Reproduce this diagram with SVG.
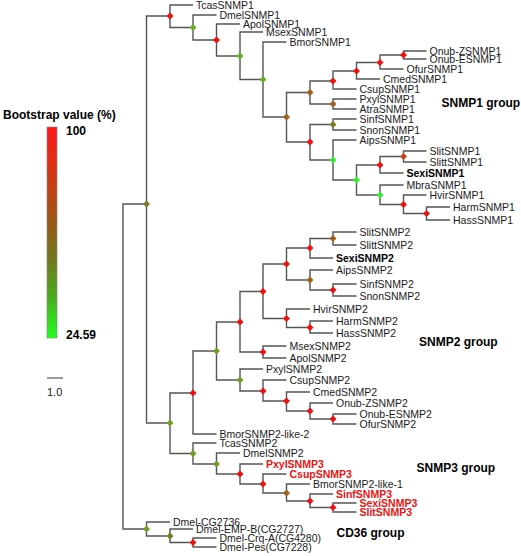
<svg xmlns="http://www.w3.org/2000/svg" xmlns:xlink="http://www.w3.org/1999/xlink" width="521" height="556" viewBox="0 0 521 556">
<style>
text{font-family:"Liberation Sans",Arial,sans-serif;font-size:10.5px;fill:#1a1a1a}
.b{font-weight:bold;fill:#000}
.rb{font-weight:bold;fill:#ee1111}
.g{font-weight:bold;font-size:12px;fill:#000}
.n{font-size:11px}
#conn path{fill:none;stroke:#555;stroke-width:1.4}
.r{fill:#ee1111}.rb2{fill:#c8401a}.br{fill:#a0601e}.ol{fill:#7a7a22}.og{fill:#749a26}.yg{fill:#66ac28}.gr{fill:#33ee33}
</style>
<defs>
<path id="d" d="M0 -3.5L3.5 0L0 3.5L-3.5 0Z"/>
<linearGradient id="bs" x1="0" y1="0" x2="0" y2="1">
<stop offset="0" stop-color="#ff1a1a"/>
<stop offset="0.25" stop-color="#cc3a12"/>
<stop offset="0.45" stop-color="#995a16"/>
<stop offset="0.62" stop-color="#75761c"/>
<stop offset="0.8" stop-color="#4aa81e"/>
<stop offset="1" stop-color="#22ff22"/>
</linearGradient>
</defs>
<rect width="521" height="556" fill="#fff"/>
<g id="legend">
<text class="g" x="3" y="119">Bootstrap value (%)</text>
<rect x="47" y="127" width="10" height="211" fill="url(#bs)" stroke="#888" stroke-width="0.6"/>
<text class="g" x="66" y="135">100</text>
<text class="g" x="66" y="339">24.59</text>
<line x1="47" y1="378" x2="63" y2="378" stroke="#333" stroke-width="1"/>
<text class="n" x="47" y="396">1.0</text>
</g>
<g id="conn">
<path d="M146.5 204H123V529H146.5"/>
<path d="M170 16H146.5V423H170"/>
<path d="M193 5H170V27.5H193"/>
<path d="M216.5 15H193V40H216.5"/>
<path d="M240 24H216.5V56H240"/>
<path d="M263 32H240V79.5H263"/>
<path d="M286.5 42H263V117H286.5"/>
<path d="M310 92.5H286.5V142H310"/>
<path d="M333 81H310V104H333"/>
<path d="M356.5 71H333V89H356.5"/>
<path d="M380 62.5H356.5V79H380"/>
<path d="M403.5 55H380V69H403.5"/>
<path d="M426.5 51H403.5V59H426.5"/>
<path d="M356.5 99H333V109H356.5"/>
<path d="M333 124.5H310V160H333"/>
<path d="M356.5 119H333V130H356.5"/>
<path d="M356.5 140H333V180H356.5"/>
<path d="M380 165H356.5V195H380"/>
<path d="M403.5 156.5H380V173H403.5"/>
<path d="M426.5 151H403.5V162H426.5"/>
<path d="M403.5 185H380V204.5H403.5"/>
<path d="M426.5 195H403.5V213.5H426.5"/>
<path d="M450 207H426.5V220H450"/>
<path d="M193 393H170V453.5H193"/>
<path d="M216.5 351H193V434H216.5"/>
<path d="M240 322H216.5V380H240"/>
<path d="M263 291.5H240V352H263"/>
<path d="M286.5 264H263V318.5H286.5"/>
<path d="M310 248H286.5V280H310"/>
<path d="M333 238.5H310V258H333"/>
<path d="M356.5 232H333V245H356.5"/>
<path d="M333 270H310V290H333"/>
<path d="M356.5 284H333V296H356.5"/>
<path d="M310 309H286.5V327.5H310"/>
<path d="M333 321H310V333H333"/>
<path d="M286.5 346H263V358H286.5"/>
<path d="M263 369H240V391H263"/>
<path d="M286.5 380H263V401H286.5"/>
<path d="M310 392H286.5V411H310"/>
<path d="M333 403H310V419H333"/>
<path d="M356.5 414H333V424H356.5"/>
<path d="M216.5 443H193V464H216.5"/>
<path d="M240 453H216.5V474H240"/>
<path d="M263 464H240V484H263"/>
<path d="M286.5 474H263V493H286.5"/>
<path d="M310 484H286.5V501H310"/>
<path d="M333 494H310V507.5H333"/>
<path d="M356.5 503H333V512H356.5"/>
<path d="M170 522H146.5V536H170"/>
<path d="M193 529H170V542.5H193"/>
<path d="M216.5 538H193V547H216.5"/>
</g>
<g id="nodes">
<g id="n-top"><use href="#d" x="146.5" y="204" class="ol"/></g>
<g id="n1"><use href="#d" x="170" y="16" class="r"/></g>
<g id="n2"><use href="#d" x="193" y="27.5" class="yg"/></g>
<g id="n3"><use href="#d" x="216.5" y="40" class="r"/></g>
<g id="n4"><use href="#d" x="240" y="56" class="yg"/></g>
<g id="n5"><use href="#d" x="263" y="79.5" class="yg"/></g>
<g id="n6"><use href="#d" x="286.5" y="117" class="br"/></g>
<g id="n7"><use href="#d" x="310" y="92.5" class="br"/></g>
<g id="n8"><use href="#d" x="333" y="81" class="r"/></g>
<g id="n9"><use href="#d" x="356.5" y="71" class="r"/></g>
<g id="n10"><use href="#d" x="380" y="62.5" class="r"/></g>
<g id="n11"><use href="#d" x="403.5" y="55" class="r"/></g>
<g id="n12"><use href="#d" x="333" y="104" class="br"/></g>
<g id="n13"><use href="#d" x="310" y="142" class="r"/></g>
<g id="n14"><use href="#d" x="333" y="124.5" class="ol"/></g>
<g id="n15"><use href="#d" x="333" y="160" class="gr"/></g>
<g id="n16"><use href="#d" x="356.5" y="180" class="gr"/></g>
<g id="n17"><use href="#d" x="380" y="165" class="r"/></g>
<g id="n18"><use href="#d" x="403.5" y="156.5" class="rb2"/></g>
<g id="n19"><use href="#d" x="380" y="195" class="gr"/></g>
<g id="n20"><use href="#d" x="403.5" y="204.5" class="r"/></g>
<g id="n21"><use href="#d" x="426.5" y="213.5" class="r"/></g>
<g id="nA"><use href="#d" x="170" y="423" class="og"/></g>
<g id="nB"><use href="#d" x="193" y="393" class="r"/></g>
<g id="nC"><use href="#d" x="216.5" y="351" class="og"/></g>
<g id="nD"><use href="#d" x="240" y="322" class="r"/></g>
<g id="nE"><use href="#d" x="263" y="291.5" class="r"/></g>
<g id="nF"><use href="#d" x="286.5" y="264" class="r"/></g>
<g id="nG"><use href="#d" x="310" y="248" class="r"/></g>
<g id="nG1"><use href="#d" x="333" y="238.5" class="br"/></g>
<g id="nG2"><use href="#d" x="310" y="280" class="br"/></g>
<g id="nG3"><use href="#d" x="333" y="290" class="r"/></g>
<g id="nH"><use href="#d" x="286.5" y="318.5" class="r"/></g>
<g id="nH1"><use href="#d" x="310" y="327.5" class="r"/></g>
<g id="nJ"><use href="#d" x="263" y="352" class="r"/></g>
<g id="nK"><use href="#d" x="240" y="380" class="og"/></g>
<g id="nL"><use href="#d" x="263" y="391" class="r"/></g>
<g id="nM"><use href="#d" x="286.5" y="401" class="r"/></g>
<g id="nN"><use href="#d" x="310" y="411" class="r"/></g>
<g id="nO"><use href="#d" x="333" y="419" class="r"/></g>
<g id="nS3"><use href="#d" x="193" y="453.5" class="og"/></g>
<g id="nS4"><use href="#d" x="216.5" y="464" class="og"/></g>
<g id="nS5"><use href="#d" x="240" y="474" class="r"/></g>
<g id="nS6"><use href="#d" x="263" y="484" class="r"/></g>
<g id="nS7"><use href="#d" x="286.5" y="493" class="br"/></g>
<g id="nS8"><use href="#d" x="310" y="501" class="r"/></g>
<g id="nS9"><use href="#d" x="333" y="507.5" class="r"/></g>
<g id="nCD"><use href="#d" x="146.5" y="529" class="og"/></g>
<g id="nCD2"><use href="#d" x="170" y="536" class="ol"/></g>
<g id="nCD3"><use href="#d" x="193" y="542.5" class="r"/></g>
</g>
<g id="leaves">
<g id="TcasSNMP1"><text x="196" y="9">TcasSNMP1</text></g>
<g id="DmelSNMP1"><text x="219.5" y="19">DmelSNMP1</text></g>
<g id="ApolSNMP1"><text x="243" y="28">ApolSNMP1</text></g>
<g id="MsexSNMP1"><text x="266" y="36">MsexSNMP1</text></g>
<g id="BmorSNMP1"><text x="289.5" y="46">BmorSNMP1</text></g>
<g id="Onub-ZSNMP1"><text x="429.5" y="55">Onub-ZSNMP1</text></g>
<g id="Onub-ESNMP1"><text x="429.5" y="63">Onub-ESNMP1</text></g>
<g id="OfurSNMP1"><text x="406.5" y="73">OfurSNMP1</text></g>
<g id="CmedSNMP1"><text x="383" y="83">CmedSNMP1</text></g>
<g id="CsupSNMP1"><text x="359.5" y="93">CsupSNMP1</text></g>
<g id="PxylSNMP1"><text x="359.5" y="103">PxylSNMP1</text></g>
<g id="AtraSNMP1"><text x="359.5" y="113">AtraSNMP1</text></g>
<g id="SinfSNMP1"><text x="359.5" y="123">SinfSNMP1</text></g>
<g id="SnonSNMP1"><text x="359.5" y="134">SnonSNMP1</text></g>
<g id="AipsSNMP1"><text x="359.5" y="144">AipsSNMP1</text></g>
<g id="SlitSNMP1"><text x="429.5" y="155">SlitSNMP1</text></g>
<g id="SlittSNMP1"><text x="429.5" y="166">SlittSNMP1</text></g>
<g id="SexiSNMP1"><text class="b" x="406.5" y="177">SexiSNMP1</text></g>
<g id="MbraSNMP1"><text x="406.5" y="189">MbraSNMP1</text></g>
<g id="HvirSNMP1"><text x="429.5" y="199">HvirSNMP1</text></g>
<g id="HarmSNMP1"><text x="453" y="211">HarmSNMP1</text></g>
<g id="HassSNMP1"><text x="453" y="224">HassSNMP1</text></g>
<g id="SlitSNMP2"><text x="359.5" y="236">SlitSNMP2</text></g>
<g id="SlittSNMP2"><text x="359.5" y="249">SlittSNMP2</text></g>
<g id="SexiSNMP2"><text class="b" x="336" y="262">SexiSNMP2</text></g>
<g id="AipsSNMP2"><text x="336" y="274">AipsSNMP2</text></g>
<g id="SinfSNMP2"><text x="359.5" y="288">SinfSNMP2</text></g>
<g id="SnonSNMP2"><text x="359.5" y="300">SnonSNMP2</text></g>
<g id="HvirSNMP2"><text x="313" y="313">HvirSNMP2</text></g>
<g id="HarmSNMP2"><text x="336" y="325">HarmSNMP2</text></g>
<g id="HassSNMP2"><text x="336" y="337">HassSNMP2</text></g>
<g id="MsexSNMP2"><text x="289.5" y="350">MsexSNMP2</text></g>
<g id="ApolSNMP2"><text x="289.5" y="362">ApolSNMP2</text></g>
<g id="PxylSNMP2"><text x="266" y="373">PxylSNMP2</text></g>
<g id="CsupSNMP2"><text x="289.5" y="384">CsupSNMP2</text></g>
<g id="CmedSNMP2"><text x="313" y="396">CmedSNMP2</text></g>
<g id="Onub-ZSNMP2"><text x="336" y="407">Onub-ZSNMP2</text></g>
<g id="Onub-ESNMP2"><text x="359.5" y="418">Onub-ESNMP2</text></g>
<g id="OfurSNMP2"><text x="359.5" y="428">OfurSNMP2</text></g>
<g id="BmorSNMP2-like-2"><text x="219.5" y="438">BmorSNMP2-like-2</text></g>
<g id="TcasSNMP2"><text x="219.5" y="447">TcasSNMP2</text></g>
<g id="DmelSNMP2"><text x="243" y="457">DmelSNMP2</text></g>
<g id="PxylSNMP3"><text class="rb" x="266" y="468">PxylSNMP3</text></g>
<g id="CsupSNMP3"><text class="rb" x="289.5" y="478">CsupSNMP3</text></g>
<g id="BmorSNMP2-like-1"><text x="313" y="488">BmorSNMP2-like-1</text></g>
<g id="SinfSNMP3"><text class="rb" x="336" y="498">SinfSNMP3</text></g>
<g id="SexiSNMP3"><text class="rb" x="359.5" y="507">SexiSNMP3</text></g>
<g id="SlitSNMP3"><text class="rb" x="359.5" y="516">SlitSNMP3</text></g>
<g id="Dmel-CG2736"><text x="173" y="526">Dmel-CG2736</text></g>
<g id="Dmel-EMP-B"><text x="196" y="533">Dmel-EMP-B(CG2727)</text></g>
<g id="Dmel-Crq-A"><text x="219.5" y="542">Dmel-Crq-A(CG4280)</text></g>
<g id="Dmel-Pes"><text x="219.5" y="551">Dmel-Pes(CG7228)</text></g>
</g>
<g id="groups">
<text class="g" x="441.5" y="107">SNMP1 group</text>
<text class="g" x="419" y="346">SNMP2 group</text>
<text class="g" x="416.5" y="472">SNMP3 group</text>
<text class="g" x="336.5" y="537">CD36 group</text>
</g>
</svg>
